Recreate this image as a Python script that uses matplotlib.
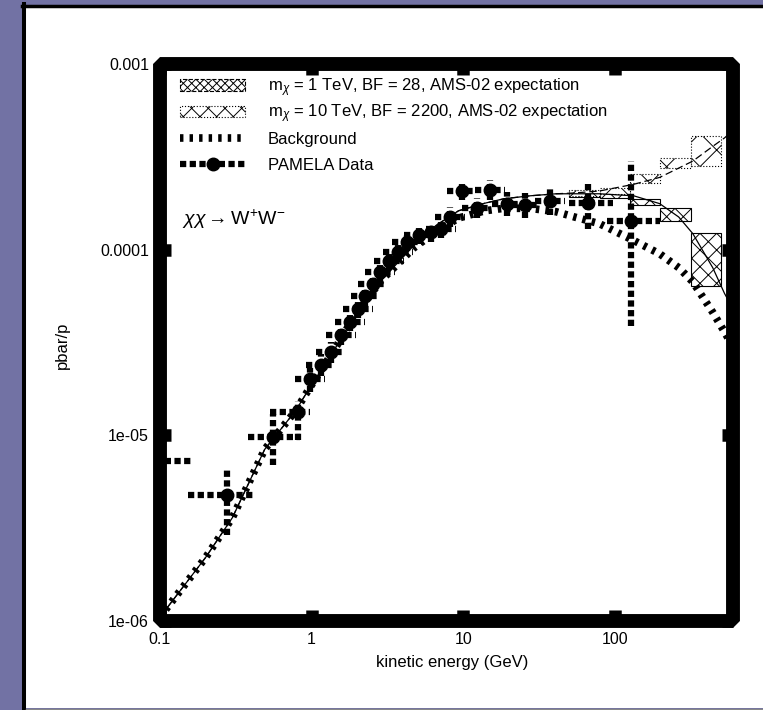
import matplotlib

matplotlib.use("Agg")
import matplotlib.pyplot as plt
from matplotlib.legend_handler import HandlerErrorbar
from matplotlib.lines import Line2D
from matplotlib.patches import Patch, Rectangle
from matplotlib.ticker import NullLocator
import numpy as np

plt.rcParams["font.family"] = ["Liberation Sans", "DejaVu Sans"]
plt.rcParams["mathtext.fontset"] = "custom"
plt.rcParams["mathtext.rm"] = "Liberation Sans"
plt.rcParams["mathtext.it"] = "Liberation Sans:italic"
plt.rcParams["hatch.linewidth"] = 0.7

# --- model curves (kinetic energy in GeV, pbar/p ratio) ---
e_grid = [0.1, 0.2, 0.3, 0.49, 0.78, 0.97, 1.45, 1.92, 2.86, 4.7, 6.6, 9.3,
          13.9, 18.5, 27.5, 41.0, 54.0, 79.0, 133.0, 197.0, 263.0, 326.0,
          441.0, 528.0, 600.0]
background = [1.05e-6, 2.2e-6, 3.6e-6, 8.4e-6, 1.35e-5, 1.8e-5, 3.0e-5,
              4.4e-5, 6.8e-5, 1.02e-4, 1.25e-4, 1.48e-4, 1.62e-4, 1.67e-4,
              1.67e-4, 1.6e-4, 1.5e-4, 1.38e-4, 1.12e-4, 9.5e-5, 8.0e-5,
              6.7e-5, 4.6e-5, 3.6e-5, 3.0e-5]
total_1tev = [1.05e-6, 2.2e-6, 3.6e-6, 8.4e-6, 1.35e-5, 1.8e-5, 3.0e-5,
              4.4e-5, 6.8e-5, 1.05e-4, 1.35e-4, 1.62e-4, 1.78e-4, 1.88e-4,
              1.95e-4, 2.0e-4, 2.0e-4, 2.0e-4, 1.95e-4, 1.77e-4, 1.5e-4,
              1.22e-4, 8.0e-5, 5.8e-5, 4.8e-5]
total_10tev = [1.05e-6, 2.2e-6, 3.6e-6, 8.4e-6, 1.35e-5, 1.8e-5, 3.0e-5,
               4.4e-5, 6.8e-5, 1.05e-4, 1.35e-4, 1.62e-4, 1.78e-4, 1.88e-4,
               1.95e-4, 2.0e-4, 2.02e-4, 2.07e-4, 2.25e-4, 2.45e-4, 2.75e-4,
               3.0e-4, 3.6e-4, 4.0e-4, 4.4e-4]

# --- AMS-02 expectation boxes ---
ams_edges = [50.1, 79.4, 125.9, 199.5, 316.0, 501.0]
ams_1tev_lo = [1.92e-4, 1.9e-4, 1.73e-4, 1.43e-4, 6.4e-5]
ams_1tev_hi = [2.06e-4, 2.05e-4, 1.88e-4, 1.68e-4, 1.23e-4]
ams_10tev_lo = [1.95e-4, 2.0e-4, 2.29e-4, 2.76e-4, 2.83e-4]
ams_10tev_hi = [2.1e-4, 2.16e-4, 2.56e-4, 3.13e-4, 4.1e-4]

# --- PAMELA data ---
pam_e = [0.0915, 0.276, 0.556, 0.811, 0.974, 1.146, 1.336, 1.564, 1.791,
         2.017, 2.262, 2.526, 2.826, 3.238, 3.706, 4.264, 5.1, 6.12, 7.13,
         8.15, 9.8, 12.27, 15.0, 19.35, 25.7, 37.3, 66.0, 128.0]
pam_e_lo = [0.06, 0.153, 0.38, 0.53, 0.78, 0.92, 1.07, 1.25, 1.43, 1.61, 1.81,
            2.02, 2.26, 2.59, 2.96, 3.41, 4.08, 4.9, 5.7, 6.5, 7.8, 9.8, 12.0,
            15.5, 20.6, 29.8, 50.0, 88.0]
pam_e_hi = [0.16, 0.41, 0.84, 0.97, 1.22, 1.43, 1.67, 1.96, 2.24, 2.52, 2.83,
            3.16, 3.53, 4.05, 4.63, 5.33, 6.38, 7.65, 8.9, 10.2, 12.2, 15.3,
            18.8, 24.2, 32.1, 46.6, 97.0, 197.0]
pam_r = [7.3e-6, 4.75e-6, 9.8e-6, 1.33e-5, 2.0e-5, 2.4e-5, 2.8e-5, 3.45e-5,
         4.1e-5, 4.8e-5, 5.6e-5, 6.5e-5, 7.6e-5, 8.7e-5, 9.7e-5, 1.1e-4,
         1.2e-4, 1.24e-4, 1.3e-4, 1.5e-4, 2.08e-4, 1.68e-4, 2.1e-4, 1.77e-4,
         1.73e-4, 1.83e-4, 1.79e-4, 1.42e-4]
pam_r_lo = [6.6e-6, 2.9e-6, 6.9e-6, 9.4e-6, 1.72e-5, 2.1e-5, 2.45e-5, 3.05e-5,
            3.65e-5, 4.3e-5, 5.0e-5, 5.8e-5, 6.8e-5, 7.8e-5, 8.7e-5, 9.8e-5,
            1.07e-4, 1.1e-4, 1.15e-4, 1.33e-4, 1.85e-4, 1.48e-4, 1.85e-4,
            1.52e-4, 1.48e-4, 1.53e-4, 1.3e-4, 3.9e-5]
pam_r_hi = [8.1e-6, 6.7e-6, 1.3e-5, 1.54e-5, 2.3e-5, 2.75e-5, 3.2e-5, 3.9e-5,
            4.6e-5, 5.35e-5, 6.25e-5, 7.3e-5, 8.5e-5, 9.7e-5, 1.08e-4, 1.23e-4,
            1.35e-4, 1.4e-4, 1.47e-4, 1.7e-4, 2.35e-4, 1.9e-4, 2.38e-4,
            2.05e-4, 2.02e-4, 2.15e-4, 2.27e-4, 3.0e-4]

x_ticks = [0.1, 1, 10, 100]
x_tick_labels = ["0.1", "1", "10", "100"]
y_ticks = [1e-6, 1e-5, 1e-4, 1e-3]
y_tick_labels = ["1e-06", "1e-05", "0.0001", "0.001"]

W, H = 763, 710
fig = plt.figure(figsize=(W / 100, H / 100), dpi=100, facecolor="#7272a4")

# white panel with its border
fig.patches.append(Rectangle((26 / W, 1 - 708 / H), 1.0, (708 - 7) / H,
                             transform=fig.transFigure, facecolor="white",
                             edgecolor="none", zorder=-5))
fig.add_artist(Line2D([24 / W, 24 / W], [1 - 710 / H, 1 - 4 / H],
                      transform=fig.transFigure, color="black", lw=2.9))
fig.add_artist(Line2D([22 / W, 1.0], [1 - 5.5 / H, 1 - 5.5 / H],
                      transform=fig.transFigure, color="black", lw=2.5))
fig.add_artist(Line2D([26 / W, 1.0], [1 - 709 / H, 1 - 709 / H],
                      transform=fig.transFigure, color="#888888", lw=1.0))

ax = fig.add_axes([160 / W, 1 - 621 / H, 573 / W, 557 / H])
ax.set_zorder(1)
ax.set_facecolor("white")
ax.set_xscale("log")
ax.set_yscale("log")
ax.set_xlim(0.1, 600)
ax.set_ylim(1e-6, 1e-3)

edges = np.array(ams_edges)
widths = edges[1:] - edges[:-1]
lo1, hi1 = np.array(ams_1tev_lo), np.array(ams_1tev_hi)
lo10, hi10 = np.array(ams_10tev_lo), np.array(ams_10tev_hi)
ax.bar(edges[:-1], hi1 - lo1, bottom=lo1, width=widths, align="edge",
       facecolor="white", edgecolor="black", hatch="xx", lw=0.8, zorder=2)
ax.bar(edges[:-1], hi10 - lo10, bottom=lo10, width=widths, align="edge",
       facecolor="white", edgecolor="black", hatch="x", lw=0.8, ls=":",
       zorder=2)

ax.plot(e_grid, total_1tev, color="black", lw=0.9, zorder=3)
ax.plot(e_grid, total_10tev, color="black", lw=0.9, dashes=(6, 3), zorder=3)
(bg_line,) = ax.plot(e_grid, background, color="black", lw=5.5,
                     solid_capstyle="butt", dash_capstyle="butt", zorder=4)
bg_line.set_dashes((0.45, 0.8))

pe = np.array(pam_e)
pr = np.array(pam_r)
eb = ax.errorbar(pe, pr,
                 xerr=[pe - np.array(pam_e_lo), np.array(pam_e_hi) - pe],
                 yerr=[pr - np.array(pam_r_lo), np.array(pam_r_hi) - pr],
                 fmt="o", color="black", ms=9, elinewidth=4.5, capsize=0,
                 zorder=5)
for bars in eb[2]:
    bars.set_linestyle((0, (1.0, 0.55)))
    bars.set_capstyle("butt")

ax.text(0.038, 0.711, r"$\chi\chi\rightarrow$W$^{+}$W$^{-}$", transform=ax.transAxes,
        fontsize=14, va="baseline", ha="left")

# legend in two blocks so the rows keep an even pitch
leg_kw = dict(loc="upper left", frameon=False, fontsize=12, handlelength=3.9,
              handletextpad=1.35, borderpad=0, borderaxespad=0)
leg_ams = ax.legend(
    [Patch(facecolor="white", edgecolor="black", hatch="xxxx", ls="--", lw=0.8),
     Patch(facecolor="white", edgecolor="black", hatch="xx", ls=":", lw=0.8)],
    [r"m$_\chi$ = 1 TeV, BF = 28, AMS-02 expectation",
     r"m$_\chi$ = 10 TeV, BF = 2200, AMS-02 expectation"],
    bbox_to_anchor=(0.035, 0.978), labelspacing=0.22, **leg_kw)
ax.add_artist(leg_ams)
ax.legend([bg_line, eb], ["Background", "PAMELA Data"],
          bbox_to_anchor=(0.035, 0.878), labelspacing=0.68,
          handler_map={eb: HandlerErrorbar(xerr_size=1.95, yerr_size=0.01)},
          **leg_kw)

# thick bevelled frame in place of spines
for sp in ax.spines.values():
    sp.set_visible(False)
ax.add_patch(Rectangle((0, 0), 1, 1, transform=ax.transAxes, fill=False,
                       lw=10, edgecolor="black", joinstyle="bevel",
                       clip_on=False, zorder=6))

ax.set_xticks(x_ticks, x_tick_labels)
ax.set_yticks(y_ticks, y_tick_labels)
ax.xaxis.set_minor_locator(NullLocator())
ax.yaxis.set_minor_locator(NullLocator())
ax.tick_params(which="major", direction="in", length=8, width=9, top=True,
               right=True, labelsize=11.5, pad=8, color="black")

ax.set_xlabel("kinetic energy (GeV)", fontsize=12)
ax.xaxis.set_label_coords(0.51, -0.061)
ax.set_ylabel("pbar/p", fontsize=12)
ax.yaxis.set_label_coords(-0.157, 0.495)

fig.savefig("out.png", dpi=100, facecolor=fig.get_facecolor())
plt.close(fig)
